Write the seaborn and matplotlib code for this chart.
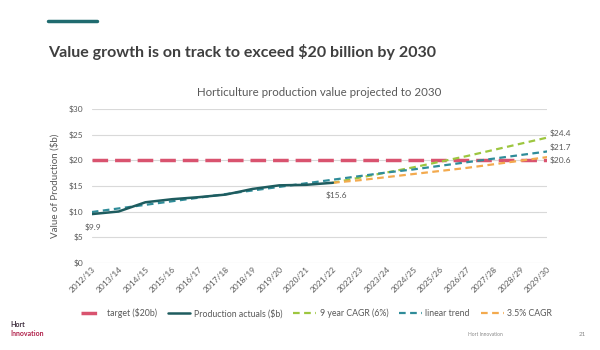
import matplotlib.pyplot as plt
import pandas as pd
import seaborn as sns

sns.set_style('white')
plt.rcParams['font.family'] = ['Lato', 'DejaVu Sans']

years = ['2012/13', '2013/14', '2014/15', '2015/16', '2016/17', '2017/18',
         '2018/19', '2019/20', '2020/21', '2021/22', '2022/23', '2023/24',
         '2024/25', '2025/26', '2026/27', '2027/28', '2028/29', '2029/30']
target = [20] * 18
actuals = [9.5, 10.0, 11.8, 12.4, 12.8, 13.3, 14.4, 15.1, 15.2, 15.6]
linear = [9.9, 10.6, 11.3, 12.0, 12.7, 13.4, 14.1, 14.8, 15.5, 16.2,
          16.9, 17.6, 18.2, 18.9, 19.6, 20.3, 21.0, 21.7]
cagr6 = [15.6, 16.6, 17.6, 18.6, 19.7, 20.8, 22.0, 23.2, 24.4]
cagr35 = [15.6, 16.1, 16.7, 17.3, 17.9, 18.5, 19.2, 19.9, 20.6]

c_target = '#d9536f'
c_act = '#1e5c5f'
c_green = '#9dc63f'
c_teal = '#2f8c99'
c_orange = '#f3aa4e'
grey = '#595959'

fig = plt.figure(figsize=(6, 3.5), dpi=100)
ax = fig.add_axes([0.153, 0.249, 0.759, 0.44])

sns.lineplot(x=years, y=target, ax=ax, color=c_target, lw=2.5,
             linestyle=(0, (4.5, 2)), label='target ($20b)')
sns.lineplot(x=years[9:], y=cagr6, ax=ax, color=c_green, lw=1.6,
             linestyle=(0, (3, 2)), label='9 year CAGR (6%)')
sns.lineplot(x=years, y=linear, ax=ax, color=c_teal, lw=1.6,
             linestyle=(0, (3, 2)), label='linear trend')
sns.lineplot(x=years[9:], y=cagr35, ax=ax, color=c_orange, lw=1.6,
             linestyle=(0, (3, 2)), label='3.5% CAGR')
sns.lineplot(x=years[:10], y=actuals, ax=ax, color=c_act, lw=1.8,
             label='Production actuals ($b)')

ax.set_ylim(0, 30)
ax.set_xlim(0, len(years) - 1)
ax.set_yticks(range(0, 31, 5))
ax.set_yticklabels([f'${v}' for v in range(0, 31, 5)])
ax.yaxis.grid(True, color='#d9d9d9', lw=0.8)
for s in ax.spines.values():
    s.set_visible(False)
ax.tick_params(axis='both', length=0, labelsize=6, labelcolor=grey, pad=2)
ax.tick_params(axis='y', pad=6)
plt.setp(ax.get_xticklabels(), rotation=45, ha='right', rotation_mode='anchor')
ax.set_ylabel('Value of Production ($b)', fontsize=7, color=grey, labelpad=7)
ax.set_xlabel('')
ax.set_title('Horticulture production value projected to 2030', fontsize=8.3,
             color=grey, pad=9)

# data labels
lbl = dict(fontsize=6, color=grey)
ax.annotate('$9.9', (0, linear[0]), xytext=(-5, -13), textcoords='offset points', **lbl)
ax.annotate('$15.6', (9, actuals[-1]), xytext=(-5, -11), textcoords='offset points', **lbl)
ax.annotate('$24.4', (17, cagr6[-1]), xytext=(2, 1), textcoords='offset points', **lbl)
ax.annotate('$21.7', (17, linear[-1]), xytext=(2, 1), textcoords='offset points', **lbl)
ax.annotate('$20.6', (17, cagr35[-1]), xytext=(2, -4), textcoords='offset points', **lbl)

# legend in the original order
h, l = ax.get_legend_handles_labels()
order = ['target ($20b)', 'Production actuals ($b)', '9 year CAGR (6%)',
         'linear trend', '3.5% CAGR']
hs = [h[l.index(o)] for o in order]
ax.legend_.remove()
fig.legend(hs, order, loc='center', bbox_to_anchor=(0.527, 0.105), ncol=5,
           frameon=False, fontsize=6.3, labelcolor=grey, handlelength=2.6,
           columnspacing=1.25, handletextpad=0.4)

# slide decoration
fig.add_artist(plt.Line2D([0.08, 0.162], [0.94, 0.94], color='#1f6b6f', lw=2.5))
fig.text(0.08, 0.85, 'Value growth is on track to exceed $20 billion by 2030',
         fontsize=11.5, fontweight='bold', color='#3f3f3f', va='center')
fig.text(0.018, 0.065, 'Hort', fontsize=5, color='#3a2a3a', fontweight='bold')
fig.text(0.018, 0.04, 'Innovation', fontsize=5, color='#b0204a', fontweight='bold')
fig.text(0.78, 0.04, 'Hort Innovation', fontsize=3.5, color='#888888')
fig.text(0.965, 0.04, '21', fontsize=4.5, color='#888888')

fig.savefig('out.png', dpi=100)
